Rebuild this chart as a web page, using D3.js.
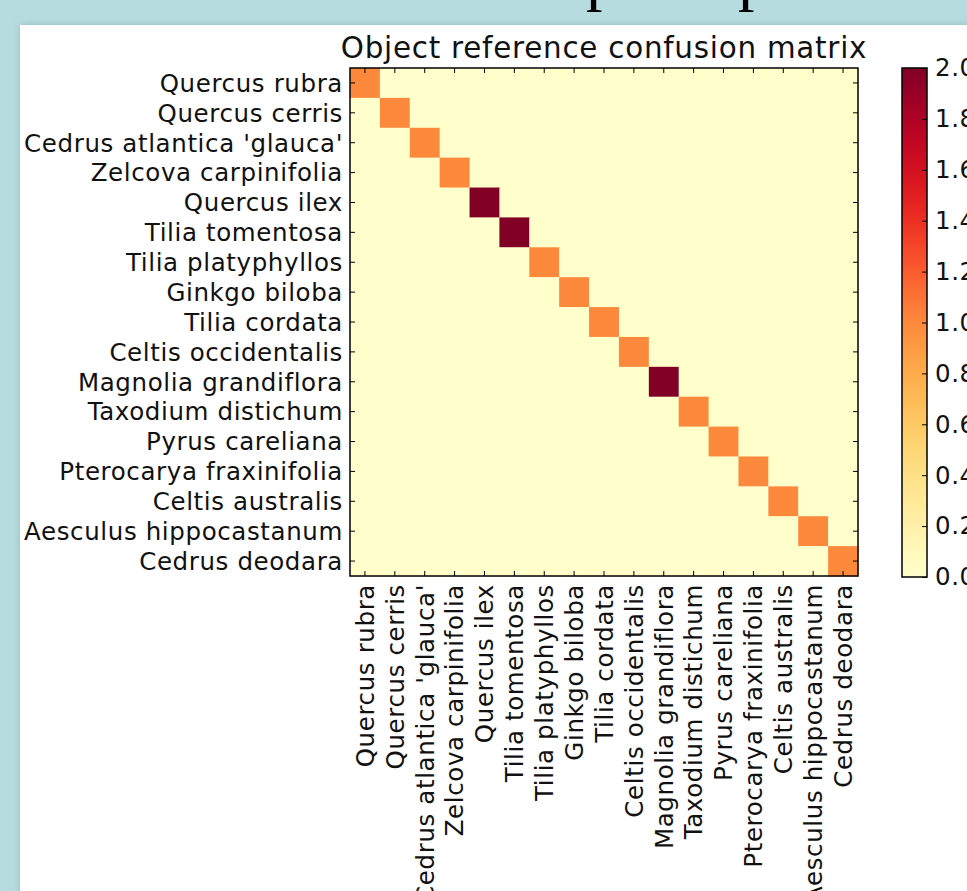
<!DOCTYPE html>
<html>
<head>
<meta charset="utf-8">
<script src="https://cdn.jsdelivr.net/npm/d3@7"></script>
<style>
  html, body { margin: 0; padding: 0; background: #b7dcdf; overflow: hidden; }
  svg { display: block; }
</style>
</head>
<body>
<script>
// species names, same order on both axes
const species = [
  "Quercus rubra", "Quercus cerris", "Cedrus atlantica 'glauca'", "Zelcova carpinifolia",
  "Quercus ilex", "Tilia tomentosa", "Tilia platyphyllos", "Ginkgo biloba",
  "Tilia cordata", "Celtis occidentalis", "Magnolia grandiflora", "Taxodium distichum",
  "Pyrus careliana", "Pterocarya fraxinifolia", "Celtis australis",
  "Aesculus hippocastanum", "Cedrus deodara"
];

// confusion counts, one row per true class
const matrix = [
  [1,0,0,0,0,0,0,0,0,0,0,0,0,0,0,0,0],
  [0,1,0,0,0,0,0,0,0,0,0,0,0,0,0,0,0],
  [0,0,1,0,0,0,0,0,0,0,0,0,0,0,0,0,0],
  [0,0,0,1,0,0,0,0,0,0,0,0,0,0,0,0,0],
  [0,0,0,0,2,0,0,0,0,0,0,0,0,0,0,0,0],
  [0,0,0,0,0,2,0,0,0,0,0,0,0,0,0,0,0],
  [0,0,0,0,0,0,1,0,0,0,0,0,0,0,0,0,0],
  [0,0,0,0,0,0,0,1,0,0,0,0,0,0,0,0,0],
  [0,0,0,0,0,0,0,0,1,0,0,0,0,0,0,0,0],
  [0,0,0,0,0,0,0,0,0,1,0,0,0,0,0,0,0],
  [0,0,0,0,0,0,0,0,0,0,2,0,0,0,0,0,0],
  [0,0,0,0,0,0,0,0,0,0,0,1,0,0,0,0,0],
  [0,0,0,0,0,0,0,0,0,0,0,0,1,0,0,0,0],
  [0,0,0,0,0,0,0,0,0,0,0,0,0,1,0,0,0],
  [0,0,0,0,0,0,0,0,0,0,0,0,0,0,1,0,0],
  [0,0,0,0,0,0,0,0,0,0,0,0,0,0,0,1,0],
  [0,0,0,0,0,0,0,0,0,0,0,0,0,0,0,0,1]
];

const colorbar_ticks = [0, 0.2, 0.4, 0.6, 0.8, 1.0, 1.2, 1.4, 1.6, 1.8, 2.0];

const W = 967, H = 891;
const plot_left = 350, plot_top = 68, plot_size = 508;
const cb_left = 902, cb_width = 25;
const label_font = "DejaVu Sans, sans-serif";
const label_size = 24.5;
const label_spacing = "0.62px"; // old matplotlib text ran a bit wide
const tick_len = 5;

const svg = d3.select("body").append("svg")
  .attr("width", W)
  .attr("height", H);

const defs = svg.append("defs");

// soft shadow round the white slide panel
const shadow = defs.append("filter").attr("id", "shadow")
  .attr("x", "-5%").attr("y", "-5%").attr("width", "110%").attr("height", "110%");
shadow.append("feDropShadow")
  .attr("dx", 0).attr("dy", 0).attr("stdDeviation", 4)
  .attr("flood-color", "#7fa9ad").attr("flood-opacity", 0.6);

svg.append("rect")
  .attr("x", 0).attr("y", 0).attr("width", W).attr("height", H)
  .attr("fill", "#b7dcdf");

// bits of the slide heading, cut off by the top of the window
svg.selectAll(".heading")
  .data(["p", "p"])
  .enter()
  .append("text")
  .attr("class", "heading")
  .attr("x", (d, i) => i === 0 ? 586 : 738)
  .attr("y", -2)
  .attr("font-family", "Liberation Serif, serif")
  .attr("font-size", 66)
  .attr("fill", "#000")
  .text(d => d);

svg.append("rect")
  .attr("x", 20).attr("y", 25)
  .attr("width", W + 20).attr("height", H + 20)
  .attr("fill", "#fff")
  .attr("filter", "url(#shadow)");

// scales
const x = d3.scaleBand().domain(d3.range(species.length))
  .range([plot_left, plot_left + plot_size]);
const y = d3.scaleBand().domain(d3.range(species.length))
  .range([plot_top, plot_top + plot_size]);

const vmax = d3.max(matrix.flat());
const color = d3.scaleSequential(d3.interpolateYlOrRd).domain([0, vmax]);

// cells
const cells = [];
matrix.forEach((row, i) => row.forEach((v, j) => cells.push({ i, j, v })));

svg.append("g")
  .selectAll("rect")
  .data(cells)
  .enter()
  .append("rect")
  .attr("x", d => x(d.j))
  .attr("y", d => y(d.i))
  .attr("width", x.bandwidth() + 0.5)
  .attr("height", y.bandwidth() + 0.5)
  .attr("fill", d => color(d.v));

// inward ticks on all four sides (matplotlib classic look)
const axisLeft = d3.axisLeft(y).tickSize(-tick_len).tickFormat("");
const axisRight = d3.axisRight(y).tickSize(-tick_len).tickFormat("");
const axisTop = d3.axisTop(x).tickSize(-tick_len).tickFormat("");
const axisBottom = d3.axisBottom(x).tickSize(-tick_len).tickFormat("");

[[axisLeft, `translate(${plot_left},0)`], [axisRight, `translate(${plot_left + plot_size},0)`],
 [axisTop, `translate(0,${plot_top})`], [axisBottom, `translate(0,${plot_top + plot_size})`]]
  .forEach(([ax, tr]) => {
    const g = svg.append("g").attr("transform", tr).call(ax);
    g.select(".domain").remove();
    g.selectAll("line").attr("stroke", "#000").attr("stroke-width", 1);
  });

// frame
svg.append("rect")
  .attr("x", plot_left).attr("y", plot_top)
  .attr("width", plot_size).attr("height", plot_size)
  .attr("fill", "none").attr("stroke", "#000").attr("stroke-width", 1.5);

// row labels
svg.append("g")
  .selectAll("text")
  .data(species)
  .enter()
  .append("text")
  .attr("x", plot_left - 7)
  .attr("y", (d, i) => y(i) + y.bandwidth() / 2)
  .attr("dy", "0.36em")
  .attr("text-anchor", "end")
  .attr("font-family", label_font)
  .attr("font-size", label_size)
  .attr("letter-spacing", label_spacing)
  .attr("fill", "#111")
  .text(d => d);

// column labels, turned upright
svg.append("g")
  .selectAll("text")
  .data(species)
  .enter()
  .append("text")
  .attr("transform", (d, i) => `translate(${x(i) + x.bandwidth() / 2},${plot_top + plot_size + 8}) rotate(-90)`)
  .attr("dy", "0.36em")
  .attr("text-anchor", "end")
  .attr("font-family", label_font)
  .attr("font-size", label_size)
  .attr("letter-spacing", label_spacing)
  .attr("fill", "#111")
  .text(d => d);

// title
svg.append("text")
  .attr("x", plot_left + plot_size / 2)
  .attr("y", plot_top - 10)
  .attr("text-anchor", "middle")
  .attr("font-family", label_font)
  .attr("font-size", label_size * 1.2)
  .attr("letter-spacing", "0.75px")
  .attr("fill", "#111")
  .text("Object reference confusion matrix");

// colorbar
const cb = d3.scaleLinear().domain([0, vmax]).range([plot_top + plot_size + 1, plot_top]);

const grad = defs.append("linearGradient").attr("id", "cbgrad")
  .attr("x1", 0).attr("y1", 1).attr("x2", 0).attr("y2", 0);
d3.range(0, 1.0001, 0.05).forEach(t => {
  grad.append("stop").attr("offset", t).attr("stop-color", color(t * vmax));
});

svg.append("rect")
  .attr("x", cb_left).attr("y", cb.range()[1])
  .attr("width", cb_width).attr("height", cb.range()[0] - cb.range()[1])
  .attr("fill", "url(#cbgrad)")
  .attr("stroke", "#000").attr("stroke-width", 1.5);

const cbAxis = svg.append("g")
  .attr("transform", `translate(${cb_left + cb_width},0)`)
  .call(d3.axisRight(cb).tickValues(colorbar_ticks).tickSize(-tick_len).tickFormat(d3.format(".1f")).tickPadding(tick_len + 3));
cbAxis.select(".domain").remove();
cbAxis.selectAll("line").attr("stroke", "#000");
cbAxis.selectAll("text")
  .attr("font-family", label_font)
  .attr("font-size", label_size)
  .attr("letter-spacing", label_spacing)
  .attr("fill", "#111");
</script>
</body>
</html>
